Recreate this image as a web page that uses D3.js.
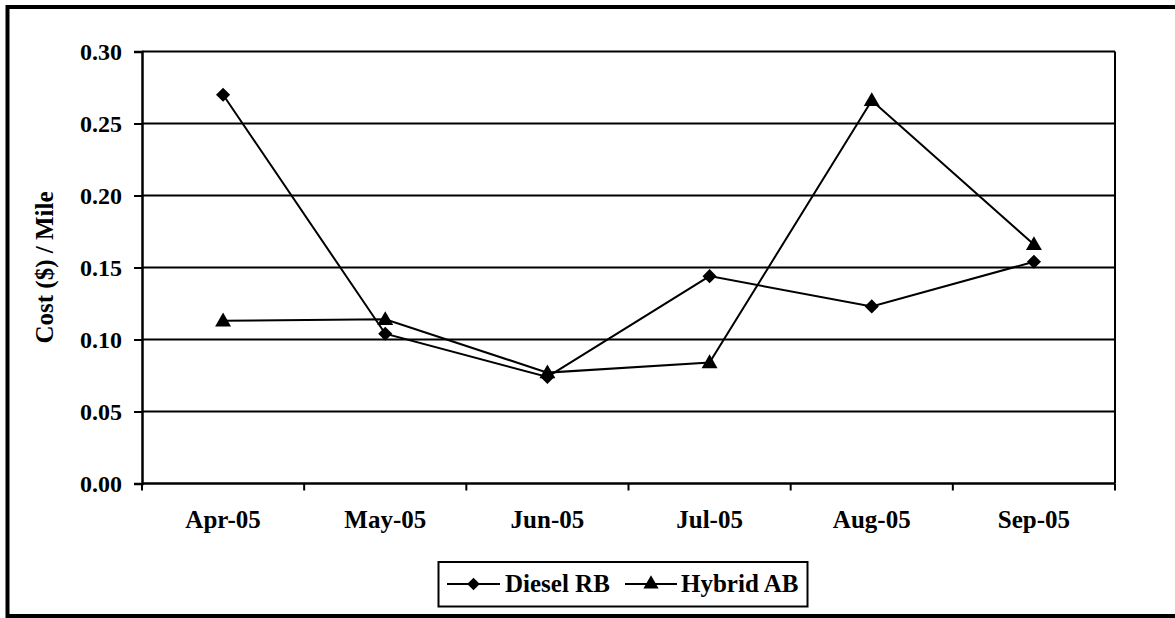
<!DOCTYPE html>
<html><head><meta charset="utf-8">
<script src="https://cdn.jsdelivr.net/npm/d3@7"></script>
<style>body{margin:0;background:#fff;} svg{display:block;} text{font-family:"Liberation Serif","Times New Roman",serif;font-weight:bold;fill:#000;}</style>
</head><body>
<svg id="c" width="1175" height="618"></svg>
<script>
const categories = ["Apr-05","May-05","Jun-05","Jul-05","Aug-05","Sep-05"];
const dieselRB = [0.270, 0.104, 0.074, 0.144, 0.123, 0.154];
const hybridAB = [0.113, 0.114, 0.077, 0.084, 0.266, 0.166];
const yTicks = [0.00, 0.05, 0.10, 0.15, 0.20, 0.25, 0.30];
const seriesNames = ["Diesel RB", "Hybrid AB"];

const svg = d3.select("#c");
const L = 142, R = 1115, T = 51.5, B = 483.5;

svg.append("rect").attr("x",7.5).attr("y",7).attr("width",1190).attr("height",609)
  .attr("fill","none").attr("stroke","#000").attr("stroke-width",4);

const x = d3.scaleBand().domain(categories).range([L,R]).padding(0);
const y = d3.scaleLinear().domain([0,0.30]).range([B,T]);

// gridlines
svg.append("g").selectAll("line").data(yTicks.slice(1)).join("line")
  .attr("x1",L).attr("x2",R).attr("y1",d=>y(d)).attr("y2",d=>y(d))
  .attr("stroke","#000").attr("stroke-width",2);
// right border of plot
svg.append("line").attr("x1",R).attr("x2",R).attr("y1",T).attr("y2",B).attr("stroke","#000").attr("stroke-width",2);

// y axis
const yAxis = d3.axisLeft(y).tickValues(yTicks).tickFormat(d3.format(".2f")).tickSize(8).tickPadding(12);
const gy = svg.append("g").attr("transform",`translate(${L},0)`).call(yAxis);
gy.select(".domain").attr("stroke","#000").attr("stroke-width",2.5);
gy.selectAll(".tick line").attr("stroke","#000").attr("stroke-width",2);
gy.selectAll("text").style("font-size","24px").style("font-family","Liberation Serif").style("font-weight","bold").attr("dy","0.35em");

// x axis
const xTickPos = categories.map(c=>x(c)).concat([R]);
const gx = svg.append("g");
gx.append("line").attr("x1",L).attr("x2",R).attr("y1",B).attr("y2",B).attr("stroke","#000").attr("stroke-width",2.5);
gx.selectAll("line.t").data(xTickPos).join("line").attr("class","t")
  .attr("x1",d=>d).attr("x2",d=>d).attr("y1",B).attr("y2",B+7).attr("stroke","#000").attr("stroke-width",2);
gx.selectAll("text").data(categories).join("text")
  .attr("x",d=>x(d)+x.bandwidth()/2).attr("y",528).attr("text-anchor","middle")
  .style("font-size","25px").text(d=>d);

// y title
svg.append("text").attr("transform",`translate(53,${(T+B)/2}) rotate(-90)`).attr("text-anchor","middle")
  .style("font-size","25px").text("Cost ($) / Mile");

const cx = (d,i)=>x(categories[i])+x.bandwidth()/2;
const line = d3.line().x((d,i)=>cx(d,i)).y(d=>y(d));
const diamond = d3.symbol().type(d3.symbolSquare).size(100);
const tri = d3.symbol().type(d3.symbolTriangle).size(110);

[[dieselRB,"d"],[hybridAB,"t"]].forEach(([data,kind])=>{
  svg.append("path").datum(data).attr("d",line).attr("fill","none").attr("stroke","#000").attr("stroke-width",2);
  svg.append("g").selectAll("path").data(data).join("path")
    .attr("transform",(d,i)=>kind==="d"?`translate(${cx(d,i)},${y(d)}) rotate(45)`:`translate(${cx(d,i)},${y(d)+1})`)
    .attr("d",kind==="d"?diamond():tri()).attr("fill","#000");
});

// legend
const lg = svg.append("g");
lg.append("rect").attr("x",438.5).attr("y",562).attr("width",369).attr("height",44.5)
  .attr("fill","#fff").attr("stroke","#000").attr("stroke-width",2);
const legendItems = [{name:seriesNames[0],x0:447,x1:500,tx:505,kind:"d"},{name:seriesNames[1],x0:625,x1:677,tx:681,kind:"t"}];
legendItems.forEach(it=>{
  const ly = 584;
  lg.append("line").attr("x1",it.x0).attr("x2",it.x1).attr("y1",ly).attr("y2",ly).attr("stroke","#000").attr("stroke-width",2);
  lg.append("path").attr("transform",it.kind==="d"?`translate(${(it.x0+it.x1)/2},${ly}) rotate(45)`:`translate(${(it.x0+it.x1)/2},${ly})`)
    .attr("d",it.kind==="d"?d3.symbol().type(d3.symbolSquare).size(80)():d3.symbol().type(d3.symbolTriangle).size(100)()).attr("fill","#000");
  lg.append("text").attr("x",it.tx).attr("y",592).style("font-size","25px").text(it.name);
});
</script>
</body></html>
